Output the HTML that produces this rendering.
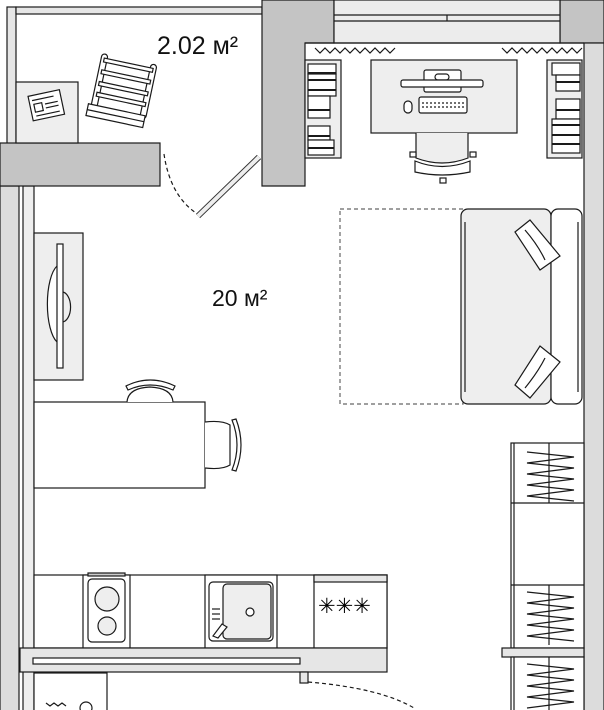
<!DOCTYPE html>
<html><head><meta charset="utf-8"><style>html,body{margin:0;padding:0;background:#fff}svg{display:block}</style></head>
<body>
<svg width="604" height="710" viewBox="0 0 604 710" xmlns="http://www.w3.org/2000/svg" font-family="Liberation Sans, DejaVu Sans, sans-serif">
<g stroke="#1a1a1a" stroke-width="1.2">
<rect x="7" y="7" width="9" height="140" fill="#e6e6e6"/>
<rect x="0" y="186" width="19" height="530" fill="#dcdcdc"/>
<rect x="23" y="186" width="11" height="530" fill="#eee"/>
<rect x="16" y="7" width="246" height="7" fill="#e6e6e6"/>
<path d="M262 0 H334 V43 H305 V186 H262 Z" fill="#c4c4c4"/>
<rect x="560" y="0" width="44" height="43" fill="#c4c4c4"/>
<rect x="334" y="0" width="226" height="43" fill="#ececec"/>
<line x1="334" y1="15" x2="560" y2="15"/><line x1="334" y1="21" x2="560" y2="21"/><line x1="447" y1="15" x2="447" y2="21"/>
<rect x="584" y="43" width="20" height="670" fill="#dcdcdc"/>
<line x1="305" y1="43" x2="584" y2="43"/>
<rect x="0" y="143" width="160" height="43" fill="#c4c4c4"/>
<rect x="16" y="82" width="62" height="61" fill="#eee"/>
<g transform="rotate(-12 45 104)"><rect x="30" y="93" width="32" height="25" fill="#fff"/><line x1="33" y1="98" x2="55" y2="98"/><rect x="34" y="102" width="8" height="8" fill="#fff"/><line x1="45" y1="104" x2="58" y2="104"/><line x1="45" y1="108" x2="58" y2="108"/><line x1="34" y1="114" x2="58" y2="114"/></g>
<g transform="rotate(12 120 90)" fill="#fff"><rect x="95" y="58" width="6" height="55" rx="3"/><rect x="145" y="58" width="6" height="55" rx="3"/><rect x="98" y="62" width="50" height="4"/><rect x="98" y="74" width="50" height="4"/><rect x="98" y="86" width="50" height="4"/><rect x="98" y="97" width="50" height="4"/><rect x="92" y="110" width="58" height="12"/><line x1="92" y1="116" x2="150" y2="116"/></g>
<line x1="198" y1="216" x2="259" y2="157" stroke="#333" stroke-width="6"/>
<line x1="198" y1="216" x2="259" y2="157" stroke="#eee" stroke-width="4"/>
<path d="M164 154 Q170 195 196 213" fill="none" stroke-dasharray="4 3"/>
<path d="M315 48 l5 5 l5 -5 l5 5 l5 -5 l5 5 l5 -5 l5 5 l5 -5 l5 5 l5 -5 l5 5 l5 -5 l5 5 l5 -5 l5 5 l5 -5" fill="none"/>
<path d="M502 48 l5 5 l5 -5 l5 5 l5 -5 l5 5 l5 -5 l5 5 l5 -5 l5 5 l5 -5 l5 5 l5 -5 l5 5 l5 -5 l5 5 l5 -5" fill="none"/>
<rect x="305" y="60" width="36" height="98" fill="#eee"/>
<g fill="#fff"><rect x="308" y="64" width="28" height="10"/><rect x="308" y="74" width="28" height="22"/><rect x="308" y="96" width="22" height="22"/><rect x="308" y="126" width="22" height="14"/><rect x="308" y="140" width="26" height="15"/></g>
<g stroke-width="2"><line x1="308" y1="73" x2="336" y2="73"/><line x1="308" y1="80" x2="336" y2="80"/><line x1="308" y1="90" x2="336" y2="90"/><line x1="308" y1="110" x2="330" y2="110"/><line x1="308" y1="136" x2="330" y2="136"/><line x1="308" y1="148" x2="334" y2="148"/></g>
<rect x="547" y="60" width="35" height="98" fill="#eee"/>
<g fill="#fff"><rect x="552" y="63" width="28" height="12"/><rect x="556" y="75" width="24" height="16"/><rect x="556" y="99" width="24" height="20"/><rect x="552" y="119" width="28" height="34"/></g>
<g stroke-width="2"><line x1="556" y1="82" x2="580" y2="82"/><line x1="556" y1="110" x2="580" y2="110"/><line x1="552" y1="125" x2="580" y2="125"/><line x1="552" y1="135" x2="580" y2="135"/><line x1="552" y1="144" x2="580" y2="144"/></g>
<rect x="371" y="60" width="146" height="73" fill="#eee"/>
<rect x="424" y="70" width="37" height="22" rx="2" fill="#fff"/><rect x="435" y="74" width="14" height="6" rx="3" fill="#fff"/>
<rect x="401" y="80" width="82" height="7" rx="2" fill="#fff"/>
<rect x="419" y="97" width="48" height="16" rx="2" fill="#fff"/>
<line x1="422" y1="103" x2="464" y2="103" stroke-dasharray="2 2"/><line x1="422" y1="107" x2="464" y2="107" stroke-dasharray="2 2"/>
<rect x="404" y="101" width="8" height="12" rx="4" fill="#fff"/>
<path d="M416 133 V158 Q442 168 468 158 V133" fill="#eee"/>
<path d="M415 161 Q442 172 470 161 V172 Q442 178 415 172 Z" fill="#fff"/>
<rect x="410" y="152" width="6" height="5" fill="#fff"/><rect x="470" y="152" width="6" height="5" fill="#fff"/><rect x="440" y="178" width="6" height="5" fill="#fff"/>
<rect x="340" y="209" width="123" height="195" fill="none" stroke="#666" stroke-dasharray="4 3"/>
<rect x="461" y="209" width="90" height="195" rx="7" fill="#eee"/>
<rect x="551" y="209" width="31" height="195" rx="7" fill="#fff"/>
<line x1="465" y1="222" x2="465" y2="392"/><line x1="578" y1="222" x2="578" y2="392"/>
<path d="M515 232 L530 220 L560 256 L540 270 Z" fill="#fff"/><path d="M525 230 Q538 245 545 260" fill="none"/>
<path d="M515 385 L530 398 L560 362 L540 346 Z" fill="#fff"/><path d="M525 388 Q538 372 545 358" fill="none"/>
<rect x="34" y="233" width="49" height="147" fill="#eee"/>
<path d="M57 266 A14 40 0 0 0 57 342" fill="#fff"/><path d="M62 292 A8 14 0 0 1 62 322" fill="none"/>
<rect x="57" y="244" width="6" height="124" fill="#fff"/>
<rect x="34" y="402" width="171" height="86" fill="#fff"/>
<path d="M127 402 Q128 388 150 387 Q172 388 173 402" fill="#fff"/>
<path d="M126 386 Q150 374 175 386 L173 390 Q150 380 128 390 Z" fill="#fff"/>
<path d="M205 422 Q222 420 230 425 V465 Q222 470 205 468" fill="#fff"/>
<path d="M232 420 Q242 445 232 470 L236 471 Q246 445 236 419 Z" fill="#fff"/>
<rect x="511" y="443" width="73" height="205" fill="#fff"/>
<line x1="514" y1="443" x2="514" y2="648"/><line x1="511" y1="503" x2="584" y2="503"/><line x1="511" y1="585" x2="584" y2="585"/>
<line x1="549" y1="443" x2="549" y2="503"/><line x1="549" y1="585" x2="549" y2="645"/>
<path d="M527 452 L574 457 L527 463 L574 468 L527 474 L574 479 L527 485 L574 490 L527 496 L574 501" fill="none"/>
<path d="M527 592 L574 597 L527 603 L574 608 L527 614 L574 619 L527 625 L574 630 L527 636 L574 641" fill="none"/>
<rect x="502" y="648" width="82" height="9" fill="#e6e6e6"/>
<rect x="511" y="657" width="73" height="60" fill="#fff"/><line x1="514" y1="657" x2="514" y2="710"/><line x1="549" y1="657" x2="549" y2="710"/>
<path d="M527 664 L574 669 L527 675 L574 680 L527 686 L574 691 L527 697 L574 702 L527 708" fill="none"/>
<rect x="34" y="575" width="353" height="73" fill="#fff"/>
<rect x="83" y="575" width="47" height="73" fill="#fff"/><rect x="88" y="579" width="37" height="63" rx="4" fill="#fff"/>
<circle cx="107" cy="599" r="12" fill="#eee"/><circle cx="107" cy="626" r="9" fill="#eee"/>
<rect x="88" y="573" width="37" height="3" fill="#ccc"/>
<rect x="205" y="575" width="72" height="73" fill="#fff"/><rect x="209" y="582" width="64" height="59" rx="4" fill="#fff"/>
<rect x="223" y="584" width="48" height="55" rx="4" fill="#eee"/><circle cx="250" cy="612" r="4" fill="#fff"/>
<path d="M213 636 L222 624 L227 627 L218 638 Z" fill="#fff"/>
<line x1="212" y1="609" x2="220" y2="609"/><line x1="212" y1="614" x2="220" y2="614"/><line x1="212" y1="619" x2="220" y2="619"/>
<rect x="314" y="575" width="73" height="73" fill="#fff"/><rect x="314" y="575" width="73" height="7" fill="#e6e6e6"/>
<rect x="20" y="648" width="367" height="24" fill="#e6e6e6"/>
<rect x="33" y="658" width="267" height="6" fill="#fff"/>
<rect x="300" y="672" width="8" height="11" fill="#e6e6e6"/>
<path d="M308 682 Q380 688 414 708" fill="none" stroke-dasharray="4 3"/>
<rect x="34" y="673" width="73" height="40" fill="#fff"/>
<circle cx="86" cy="708" r="6" fill="#fff"/><path d="M46 703 l4 3 l4 -3 l4 3 l4 -3 l4 3" fill="none"/>
</g>
<text x="318" y="613" font-size="21" fill="#000">✳✳✳</text>
<text x="157" y="54" font-size="25" fill="#111">2.02 м²</text>
<text x="212" y="306" font-size="23" fill="#111">20 м²</text>
</svg>
</body></html>
